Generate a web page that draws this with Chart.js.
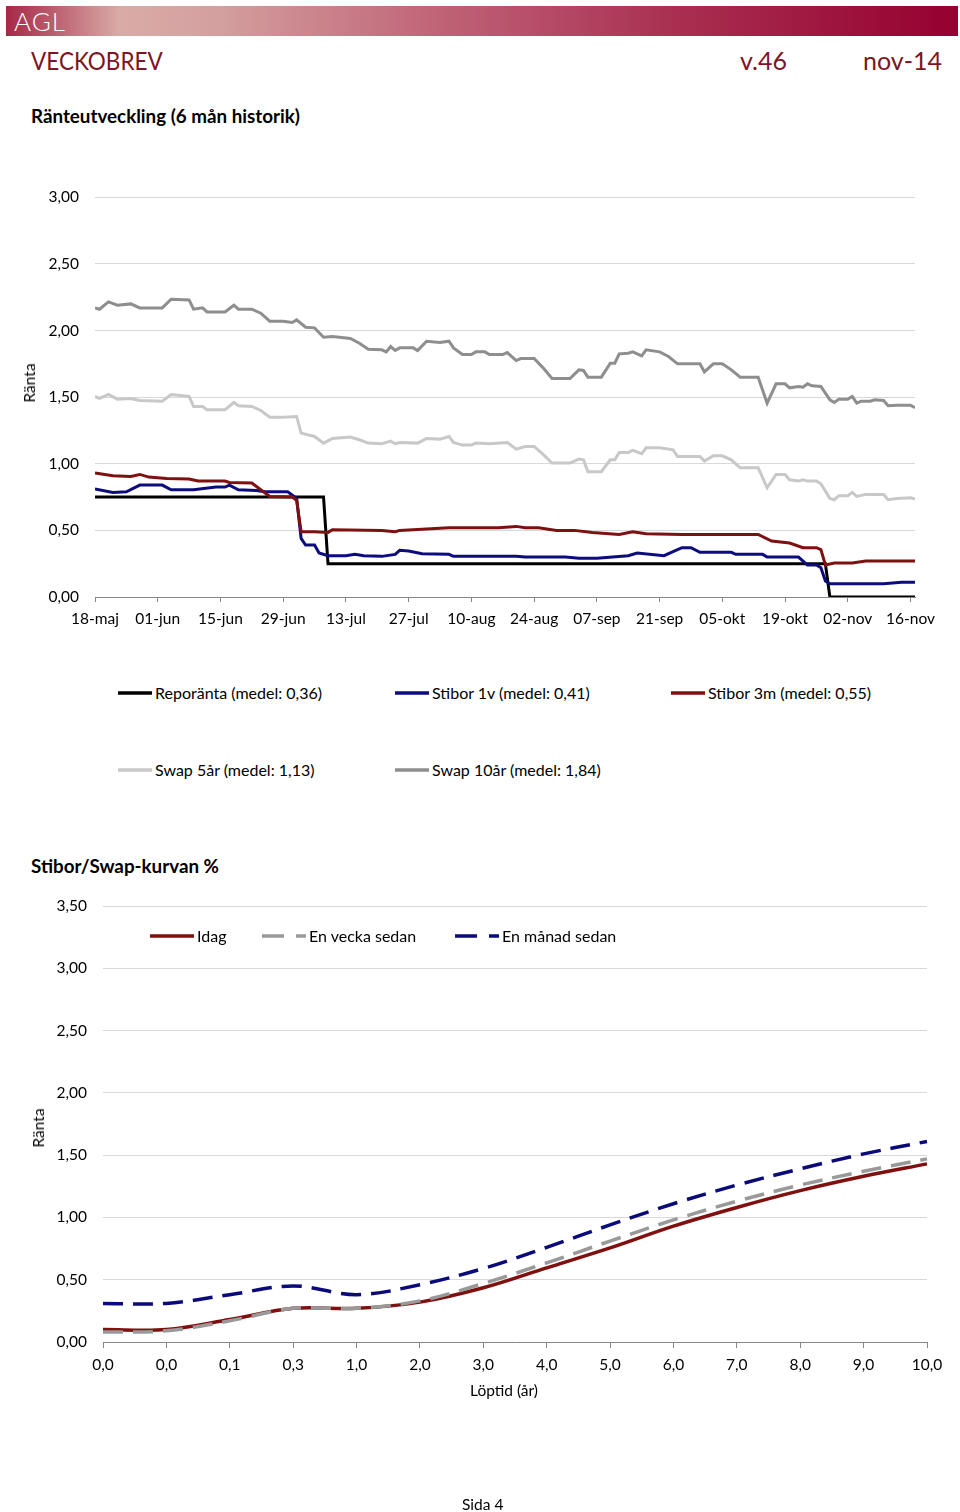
<!DOCTYPE html>
<html lang="sv">
<head>
<meta charset="UTF-8">
<title>Veckobrev v.46</title>
<script src="https://cdn.jsdelivr.net/npm/chart.js"></script>
<style>
    body { margin: 0; width: 960px; height: 1512px; position: relative; overflow: hidden; background: #fff; font-family: Lato, "Open Sans", sans-serif; color: #000; }
    .abs { position: absolute; white-space: nowrap; }
    #banner { left: 6px; top: 6px; width: 952px; height: 30px;
        background: linear-gradient(90deg, #a62848 0%, #d9aba7 12%, #d4a09f 22%, #c06478 45%, #a93050 70%, #950030 100%); }
    #banner span { position: absolute; left: 8px; top: 0px; color: #fff; font-size: 26px; font-weight: 300; letter-spacing: 1px; line-height: 30px; }
    .head { color: #7d1522; font-size: 25px; line-height: 30px; top: 45px; }
    .section { font-weight: bold; font-size: 18.8px; line-height: 22px; left: 31px; }
    .axis-title { font-size: 15.5px; line-height: 18px; }
    .legend-item { position: absolute; display: flex; align-items: center; font-size: 16px; line-height: 20px; }
    .legend-item svg { margin-right: 3px; }
</style>
</head>
<body>
    <div id="banner" class="abs"><span>AGL</span></div>
    <div class="abs head" style="left:31px;transform:scaleX(0.9);transform-origin:left center">VECKOBREV</div>
    <div class="abs head" style="left:740px">v.46</div>
    <div class="abs head" style="right:18px">nov-14</div>

    <div class="abs section" style="top:105px">Ränteutveckling (6 mån historik)</div>
    <canvas id="historyChart" class="abs" style="left:0;top:172px" width="960" height="468"></canvas>
    <div class="abs axis-title" style="left:29px;top:383px;transform:translate(-50%,-50%) rotate(-90deg)">Ränta</div>
    <div id="historyLegend"></div>

    <div class="abs section" style="top:855px">Stibor/Swap-kurvan %</div>
    <canvas id="curveChart" class="abs" style="left:0;top:880px" width="960" height="530"></canvas>
    <div class="abs axis-title" style="left:38px;top:1128px;transform:translate(-50%,-50%) rotate(-90deg)">Ränta</div>
    <div class="abs axis-title" style="left:504px;top:1390px;transform:translate(-50%,-50%)">Löptid (år)</div>
    <div id="curveLegend"></div>

    <div class="abs" style="left:462px;top:1494px;font-size:15.5px;line-height:20px">Sida 4</div>

<script>
// ---- Ränteutveckling: days counted from 18-maj ----
const histTickLabels = ['18-maj', '01-jun', '15-jun', '29-jun', '13-jul', '27-jul', '10-aug', '24-aug',
    '07-sep', '21-sep', '05-okt', '19-okt', '02-nov', '16-nov'];

const repoDays = [0, 51, 52, 163, 164, 183];
const repo = [0.75, 0.75, 0.25, 0.25, 0, 0];

const stibor1vDays = [0, 4, 7, 10, 15, 17, 22, 27, 29, 30, 32, 36, 38, 43, 45, 46, 47, 49, 50, 52, 56, 58, 60, 64, 67, 68, 70, 73, 79, 80, 85,
    94, 96, 105, 108, 112, 119, 121, 127, 129, 131, 133, 135, 142, 143, 149, 150, 157, 159, 161, 162, 163, 164, 176, 180, 183];
const stibor1v = [0.81, 0.785, 0.79, 0.84, 0.84, 0.805, 0.805, 0.825, 0.825, 0.84, 0.805, 0.80, 0.79, 0.79, 0.74, 0.44, 0.39, 0.39, 0.33, 0.31, 0.31, 0.32, 0.31, 0.305, 0.32, 0.35, 0.345, 0.325, 0.32, 0.305, 0.305,
    0.305, 0.30, 0.30, 0.29, 0.29, 0.31, 0.33, 0.31, 0.34, 0.37, 0.37, 0.335, 0.335, 0.32, 0.32, 0.30, 0.30, 0.24, 0.24, 0.22, 0.12, 0.10, 0.10, 0.11, 0.11];

const stibor3mDays = [0, 4, 8, 10, 12, 16, 21, 23, 29, 30, 35, 37, 39, 44, 45, 46, 49, 52, 53, 64, 67, 68, 79, 86, 90, 94, 96, 99,
    103, 107, 111, 117, 120, 123, 131, 139, 148, 151, 155, 158, 161, 162, 163, 165, 169, 172, 183];
const stibor3m = [0.93, 0.91, 0.905, 0.92, 0.90, 0.89, 0.885, 0.87, 0.87, 0.86, 0.855, 0.805, 0.755, 0.75, 0.725, 0.49, 0.49, 0.485, 0.505, 0.50, 0.49, 0.50, 0.52, 0.52, 0.52, 0.53, 0.52, 0.52,
    0.50, 0.50, 0.485, 0.47, 0.49, 0.475, 0.47, 0.47, 0.47, 0.42, 0.405, 0.37, 0.37, 0.355, 0.24, 0.255, 0.255, 0.27, 0.27];

const swap5Days = [0, 1, 3, 5, 8, 10, 15, 17, 21, 22, 24, 25, 29, 31, 32, 35, 37, 39, 42, 45, 46, 49, 51, 53, 57, 59, 61, 64, 66, 67, 68, 72, 74, 77, 79, 80, 82, 84, 85, 88, 92,
    94, 96, 98, 100, 102, 106, 108, 109, 110, 113, 115, 116, 117, 119, 120, 122, 123, 126, 129, 130, 135, 136, 138, 140, 142, 144, 148, 150, 152, 154, 155, 157, 158, 159, 161, 162,
    164, 165, 166, 168, 169, 170, 172, 176, 177, 179, 182, 183];
const swap5 = [1.505, 1.49, 1.52, 1.485, 1.49, 1.475, 1.47, 1.52, 1.505, 1.43, 1.43, 1.405, 1.405, 1.46, 1.435, 1.43, 1.40, 1.35, 1.35, 1.355, 1.23, 1.205, 1.155, 1.19, 1.20, 1.18, 1.155, 1.15, 1.17, 1.15, 1.16, 1.155, 1.19, 1.185, 1.205, 1.16, 1.14, 1.14, 1.155, 1.15, 1.16,
    1.11, 1.13, 1.13, 1.07, 1.005, 1.005, 1.035, 1.03, 0.94, 0.94, 1.03, 1.03, 1.085, 1.085, 1.10, 1.075, 1.12, 1.12, 1.105, 1.055, 1.055, 1.02, 1.06, 1.06, 1.03, 0.97, 0.97, 0.82, 0.92, 0.92, 0.88, 0.87, 0.88, 0.87, 0.87, 0.85,
    0.74, 0.73, 0.76, 0.76, 0.785, 0.755, 0.77, 0.77, 0.73, 0.74, 0.745, 0.735];

const swap10Days = [0, 1, 3, 5, 8, 10, 15, 17, 21, 22, 24, 25, 29, 31, 32, 35, 37, 39, 42, 44, 45, 47, 49, 51, 53, 57, 59, 61, 64, 65, 66, 67, 68, 71, 72, 74, 77, 79, 80, 82, 84, 85, 87, 88, 91, 92,
    94, 95, 98, 100, 102, 106, 108, 109, 110, 113, 115, 116, 117, 119, 120, 122, 123, 126, 128, 130, 135, 136, 138, 140, 142, 144, 148, 150, 152, 154, 155, 157, 158, 159, 160, 162,
    164, 165, 166, 168, 169, 170, 171, 173, 174, 176, 177, 179, 182, 183];
const swap10 = [2.17, 2.16, 2.215, 2.19, 2.20, 2.17, 2.17, 2.235, 2.23, 2.16, 2.17, 2.14, 2.14, 2.19, 2.16, 2.16, 2.13, 2.07, 2.07, 2.06, 2.08, 2.025, 2.02, 1.95, 1.955, 1.94, 1.905, 1.86, 1.855, 1.84, 1.88, 1.85, 1.87, 1.87, 1.85, 1.92, 1.91, 1.92, 1.87, 1.82, 1.82, 1.84, 1.84, 1.82, 1.82, 1.835,
    1.775, 1.79, 1.79, 1.72, 1.64, 1.64, 1.705, 1.70, 1.65, 1.65, 1.755, 1.755, 1.825, 1.83, 1.84, 1.81, 1.855, 1.84, 1.805, 1.75, 1.75, 1.69, 1.75, 1.75, 1.705, 1.65, 1.65, 1.455, 1.60, 1.60, 1.57, 1.58, 1.575, 1.60, 1.585, 1.58,
    1.48, 1.46, 1.485, 1.485, 1.505, 1.455, 1.47, 1.47, 1.48, 1.475, 1.435, 1.44, 1.44, 1.42];

const histNames = ['Reporänta (medel: 0,36)', 'Stibor 1v (medel: 0,41)', 'Stibor 3m (medel: 0,55)', 'Swap 5år (medel: 1,13)', 'Swap 10år (medel: 1,84)'];
const histColors = ['#000000', '#0c0c7c', '#7f1010', '#c8c8c8', '#8e8e8e'];

// ---- Stibor/Swap-kurvan ----
const curveLabels = ['0,0', '0,0', '0,1', '0,3', '1,0', '2,0', '3,0', '4,0', '5,0', '6,0', '7,0', '8,0', '9,0', '10,0'];
const idag = [0.10, 0.10, 0.18, 0.27, 0.27, 0.32, 0.435, 0.595, 0.755, 0.93, 1.08, 1.215, 1.33, 1.43];
const enVecka = [0.08, 0.09, 0.17, 0.27, 0.27, 0.33, 0.47, 0.635, 0.81, 0.98, 1.13, 1.26, 1.37, 1.47];
const enManad = [0.31, 0.31, 0.38, 0.45, 0.38, 0.46, 0.59, 0.76, 0.94, 1.11, 1.26, 1.39, 1.51, 1.61];

const curveNames = ['Idag', 'En vecka sedan', 'En månad sedan'];
const curveColors = ['#801010', '#999999', '#0a0a7a'];
const curveDash = [[], [20, 10], [20, 10]];

Chart.defaults.font.family = 'Lato, "Open Sans", sans-serif';
Chart.defaults.font.size = 15.5;
Chart.defaults.color = '#000';

const comma = v => v.toFixed(2).replace('.', ',');
const toPoints = (days, vals) => days.map((d, i) => ({ x: d, y: vals[i] }));

const histSeries = [
    toPoints(repoDays, repo),
    toPoints(stibor1vDays, stibor1v),
    toPoints(stibor3mDays, stibor3m),
    toPoints(swap5Days, swap5),
    toPoints(swap10Days, swap10)
];

new Chart(document.getElementById('historyChart'), {
    type: 'line',
    data: {
        datasets: histSeries.map((pts, i) => ({
            label: histNames[i],
            data: pts,
            borderColor: histColors[i],
            borderWidth: 3,
            pointRadius: 0,
            tension: 0,
            order: histSeries.length - i
        }))
    },
    options: {
        responsive: false,
        animation: false,
        layout: { padding: { left: 20, top: 9, right: 45, bottom: 13 } },
        plugins: { legend: { display: false }, tooltip: { enabled: false } },
        scales: {
            x: {
                type: 'linear',
                min: 0,
                max: 183,
                afterBuildTicks: s => { s.ticks = histTickLabels.map((_, i) => ({ value: i * 14 })); },
                afterFit: s => { s.height = 30; },
                ticks: { autoSkip: false, maxRotation: 0, padding: 8, callback: (v, i) => histTickLabels[i] },
                grid: { drawOnChartArea: false, drawTicks: true, tickLength: 5, color: '#868686' },
                border: { display: true, color: '#868686' }
            },
            y: {
                min: 0,
                max: 3,
                afterFit: s => { s.width = 75; },
                ticks: { stepSize: 0.5, padding: 16, callback: v => comma(v) },
                grid: { color: '#d9d9d9', drawTicks: false },
                border: { display: false }
            }
        }
    }
});

new Chart(document.getElementById('curveChart'), {
    type: 'line',
    data: {
        labels: curveLabels,
        datasets: [idag, enVecka, enManad].map((vals, i) => ({
            label: curveNames[i],
            data: vals,
            borderColor: curveColors[i],
            borderWidth: 3.5,
            borderDash: curveDash[i],
            borderCapStyle: 'butt',
            pointRadius: 0,
            tension: 0.35,
            order: 3 - i
        }))
    },
    options: {
        responsive: false,
        animation: false,
        layout: { padding: { left: 20, top: 26, right: 33, bottom: 8 } },
        plugins: { legend: { display: false }, tooltip: { enabled: false } },
        scales: {
            x: {
                afterFit: s => { s.height = 60; },
                ticks: { autoSkip: false, maxRotation: 0, padding: 8 },
                grid: { drawOnChartArea: false, drawTicks: true, tickLength: 6, color: '#868686' },
                border: { display: true, color: '#868686' }
            },
            y: {
                min: 0,
                max: 3.5,
                afterFit: s => { s.width = 83; },
                ticks: { stepSize: 0.5, padding: 16, callback: v => comma(v) },
                grid: { color: '#d9d9d9', drawTicks: false },
                border: { display: false }
            }
        }
    }
});

// HTML legends laid out like the original report
function sample(color, dash, width) {
    const da = dash.length ? ` stroke-dasharray="${dash.join(' ')}"` : '';
    return `<svg width="${width}" height="6"><line x1="0" y1="3" x2="${width}" y2="3" stroke="${color}" stroke-width="3.5"${da}/></svg>`;
}
function addLegend(id, items) {
    const box = document.getElementById(id);
    items.forEach(it => {
        const el = document.createElement('div');
        el.className = 'legend-item';
        el.style.left = it.x + 'px';
        el.style.top = (it.y - 10) + 'px';
        el.innerHTML = sample(it.color, it.dash, it.w) + '<span>' + it.text + '</span>';
        box.appendChild(el);
    });
}
const histPos = [[118, 693], [395, 693], [671, 693], [118, 770], [395, 770]];
addLegend('historyLegend', histNames.map((n, i) => ({ x: histPos[i][0], y: histPos[i][1], color: histColors[i], dash: [], w: 34, text: n })));
const curvePos = [150, 262, 455];
addLegend('curveLegend', curveNames.map((n, i) => ({ x: curvePos[i], y: 936, color: curveColors[i], dash: curveDash[i].length ? [22, 12] : [], w: 44, text: n })));
</script>
</body>
</html>
